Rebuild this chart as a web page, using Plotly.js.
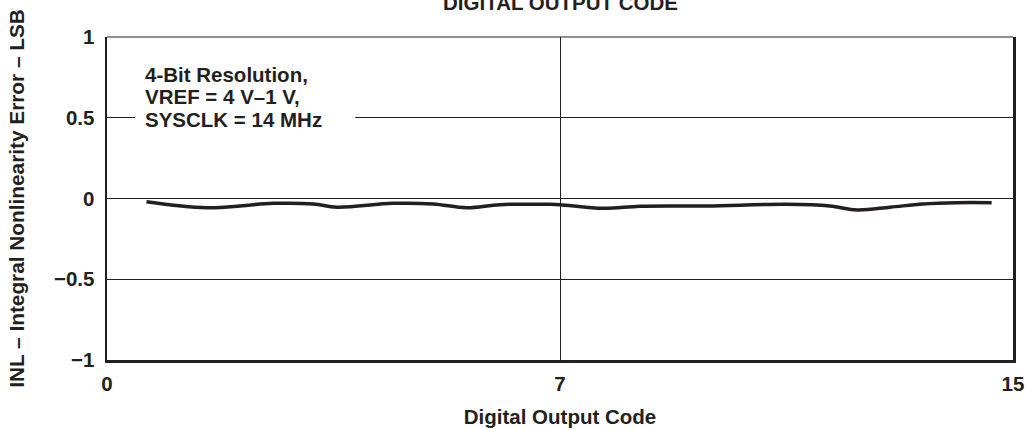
<!DOCTYPE html>
<html>
<head>
<meta charset="utf-8">
<script src="https://cdn.plot.ly/plotly-3.0.1.min.js"></script>
<style>html,body{margin:0;padding:0;background:#fff;}#chart{width:1029px;height:430px;}</style>
</head>
<body>
<div id="chart"></div>
<script>
// Digital output code (axis drawn 0..14, end label reads "15")
const codes = [0.61, 1.54, 2.57, 3.19, 3.55, 4.42, 5.04, 5.56, 6.07, 6.85, 7.0, 7.67, 8.24, 9.27, 10.50, 11.17, 11.59, 12.10, 12.61, 13.13, 13.67];
// INL error in LSB
const inl = [-0.020, -0.057, -0.030, -0.034, -0.054, -0.030, -0.034, -0.057, -0.038, -0.036, -0.038, -0.061, -0.048, -0.046, -0.036, -0.046, -0.071, -0.054, -0.034, -0.026, -0.026];
const xTickVals = [0, 7, 14];
const xTickText = ['0', '7', '15'];
const yTickVals = [-1, -0.5, 0, 0.5, 1];
const yTickText = ['\u22121', '\u22120.5', '0', '0.5', '1'];
const noteLines = ['4-Bit Resolution,', 'VREF = 4 V\u20131 V,', 'SYSCLK = 14 MHz'];

const ink = '#231f20';
const fontFam = '"Liberation Sans", Arial, sans-serif';

const trace = {
  x: codes, y: inl, type: 'scatter', mode: 'lines',
  line: {color: ink, width: 3.5, shape: 'spline', smoothing: 1},
  hoverinfo: 'skip'
};

const noteY = [0.884, 0.815, 0.746];
const annotations = noteLines.map((t, i) => ({
  text: '<b>' + t + '</b>', xref: 'paper', yref: 'paper',
  x: 0.0397, y: noteY[i], xanchor: 'left', yanchor: 'middle',
  showarrow: false, font: {family: fontFam, size: 20.5, color: ink}
}));
annotations.push({
  text: '<b>DIGITAL OUTPUT CODE</b>', xref: 'paper', yref: 'paper',
  x: 0.5, y: 1.106, xanchor: 'center', yanchor: 'middle', showarrow: false,
  font: {family: fontFam, size: 20.5, color: ink}
});

const layout = {
  width: 1029, height: 430,
  margin: {l: 107, r: 16, t: 37, b: 70},
  paper_bgcolor: '#fff', plot_bgcolor: '#fff',
  showlegend: false,
  font: {family: fontFam, color: ink, size: 20},
  xaxis: {
    range: [0, 14], tickvals: xTickVals, ticktext: xTickText,
    showgrid: true, gridcolor: ink, gridwidth: 1, zeroline: false,
    showline: true, linecolor: ink, linewidth: 2.5, mirror: false,
    ticks: '', ticklabelstandoff: 4,
    tickfont: {family: fontFam, size: 20.5, color: ink, weight: 'bold'},
    title: {text: '<b>Digital Output Code</b>', standoff: 16, font: {family: fontFam, size: 20.5, color: ink}}
  },
  yaxis: {
    range: [-1, 1], tickvals: yTickVals, ticktext: yTickText,
    showgrid: true, gridcolor: ink, gridwidth: 1, zeroline: false,
    showline: true, linecolor: ink, linewidth: 2.5, mirror: true,
    ticks: '', ticklabelstandoff: 6,
    tickfont: {family: fontFam, size: 20.5, color: ink, weight: 'bold'},
    title: {text: '<b>INL \u2013 Integral Nonlinearity Error \u2013 LSB</b>', standoff: 24, font: {family: fontFam, size: 20.8, color: ink}}
  },
  shapes: [
    {type: 'rect', xref: 'paper', yref: 'paper', x0: 0.031, x1: 0.274, y0: 0.706, y1: 0.923,
     fillcolor: '#fff', line: {width: 0}, layer: 'above'},
    {type: 'line', xref: 'paper', yref: 'paper', x0: 0, x1: 1, y0: 1, y1: 1,
     line: {color: ink, width: 1}, layer: 'above'}
  ],
  annotations: annotations
};

Plotly.newPlot('chart', [trace], layout, {displayModeBar: false, staticPlot: true});
</script>
</body>
</html>
